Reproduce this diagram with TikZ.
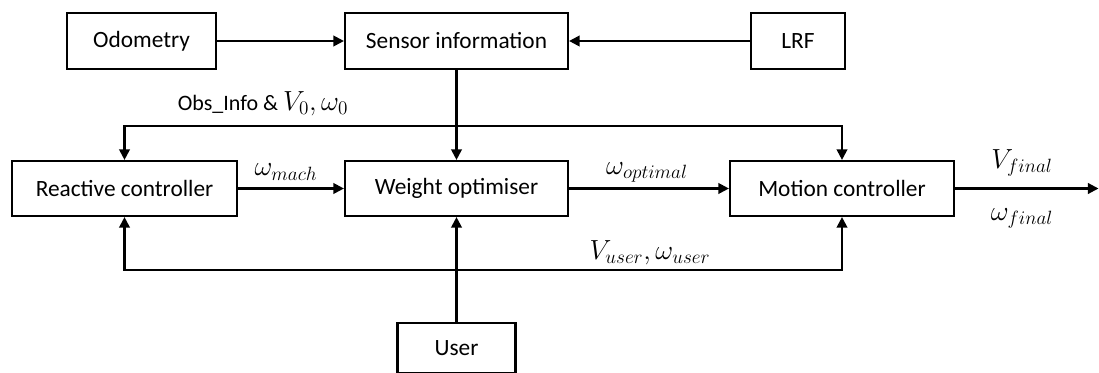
\documentclass[tikz,border=0pt]{standalone}
\usepackage{fontspec}
\setmainfont{Carlito}
\usetikzlibrary{arrows.meta}
\tikzset{
  blk/.style={draw=black, line width=1.6pt, rectangle, inner sep=0pt, fill=white,
              font=\fontsize{17.5}{20}\selectfont},
  ln/.style={line width=1.6pt, line join=miter},
  arr/.style={ln, -{Triangle[length=8pt,width=8pt]}},
  arr2/.style={ln, {Triangle[length=8pt,width=8pt]}-{Triangle[length=8pt,width=8pt]}},
  lbl/.style={inner sep=0pt, font=\fontsize{21.5}{24}\selectfont},
  slbl/.style={inner sep=0pt, font=\fontsize{16.5}{19}\selectfont}
}
\begin{document}
\begin{tikzpicture}[x=0.75pt,y=-0.75pt]
\useasboundingbox (0,0) rectangle (1099,373);
% boxes
\node[blk, minimum width=111.75pt, minimum height=42pt] (odo) at (141.5,41) {Odometry};
\node[blk, minimum width=167.25pt, minimum height=42pt] (sens) at (456.5,41) {Sensor information};
\node[blk, minimum width=70.5pt, minimum height=42pt] (lrf) at (798,41) {LRF};
\node[blk, minimum width=168.75pt, minimum height=41.25pt] (react) at (124.5,188.5) {Reactive controller};
\node[blk, minimum width=167.25pt, minimum height=41.25pt] (weight) at (456.5,188.5) {Weight optimiser};
\node[blk, minimum width=168pt, minimum height=41.25pt] (motion) at (842,188.5) {Motion controller};
\node[blk, minimum width=88.5pt, minimum height=37.5pt] (user) at (456.5,348) {User};
% helper coordinates
\coordinate (obsy) at (0,126);
\coordinate (boty) at (0,270);
\coordinate (obsL) at (react.north |- obsy);
\coordinate (obsR) at (motion.north |- obsy);
\coordinate (botL) at (react.south |- boty);
\coordinate (botR) at (motion.south |- boty);
\coordinate (out) at (1098.5,188.5);
% connectors
\draw[arr] (odo.east) -- (sens.west);
\draw[arr] (lrf.west) -- (sens.east);
\draw[arr] (sens.south) -- (weight.north);
\draw[arr2] (react.north) -- (obsL) -- (obsR) -- (motion.north);
\draw[arr2] (react.south) -- (botL) -- (botR) -- (motion.south);
\draw[arr] (user.north) -- (weight.south);
\draw[arr] (react.east) -- (weight.west);
\draw[arr] (weight.east) -- (motion.west);
\draw[arr] (motion.east) -- (out);
% labels
\node[slbl] (obslbl) at (263,104) {Obs\_Info \& {\fontsize{21.5}{24}\selectfont $V_0,\omega_0$}};
\node[lbl] (wmach) at (286,172) {$\omega_{mach}$};
\node[lbl] (wopt) at (647,172) {$\omega_{optimal}$};
\node[lbl] (vfin) at (1022,163) {$V_{final}$};
\node[lbl] (wfin) at (1022,218) {$\omega_{final}$};
\node[lbl] (vuser) at (650,253) {$V_{user},\omega_{user}$};
\end{tikzpicture}
\end{document}
